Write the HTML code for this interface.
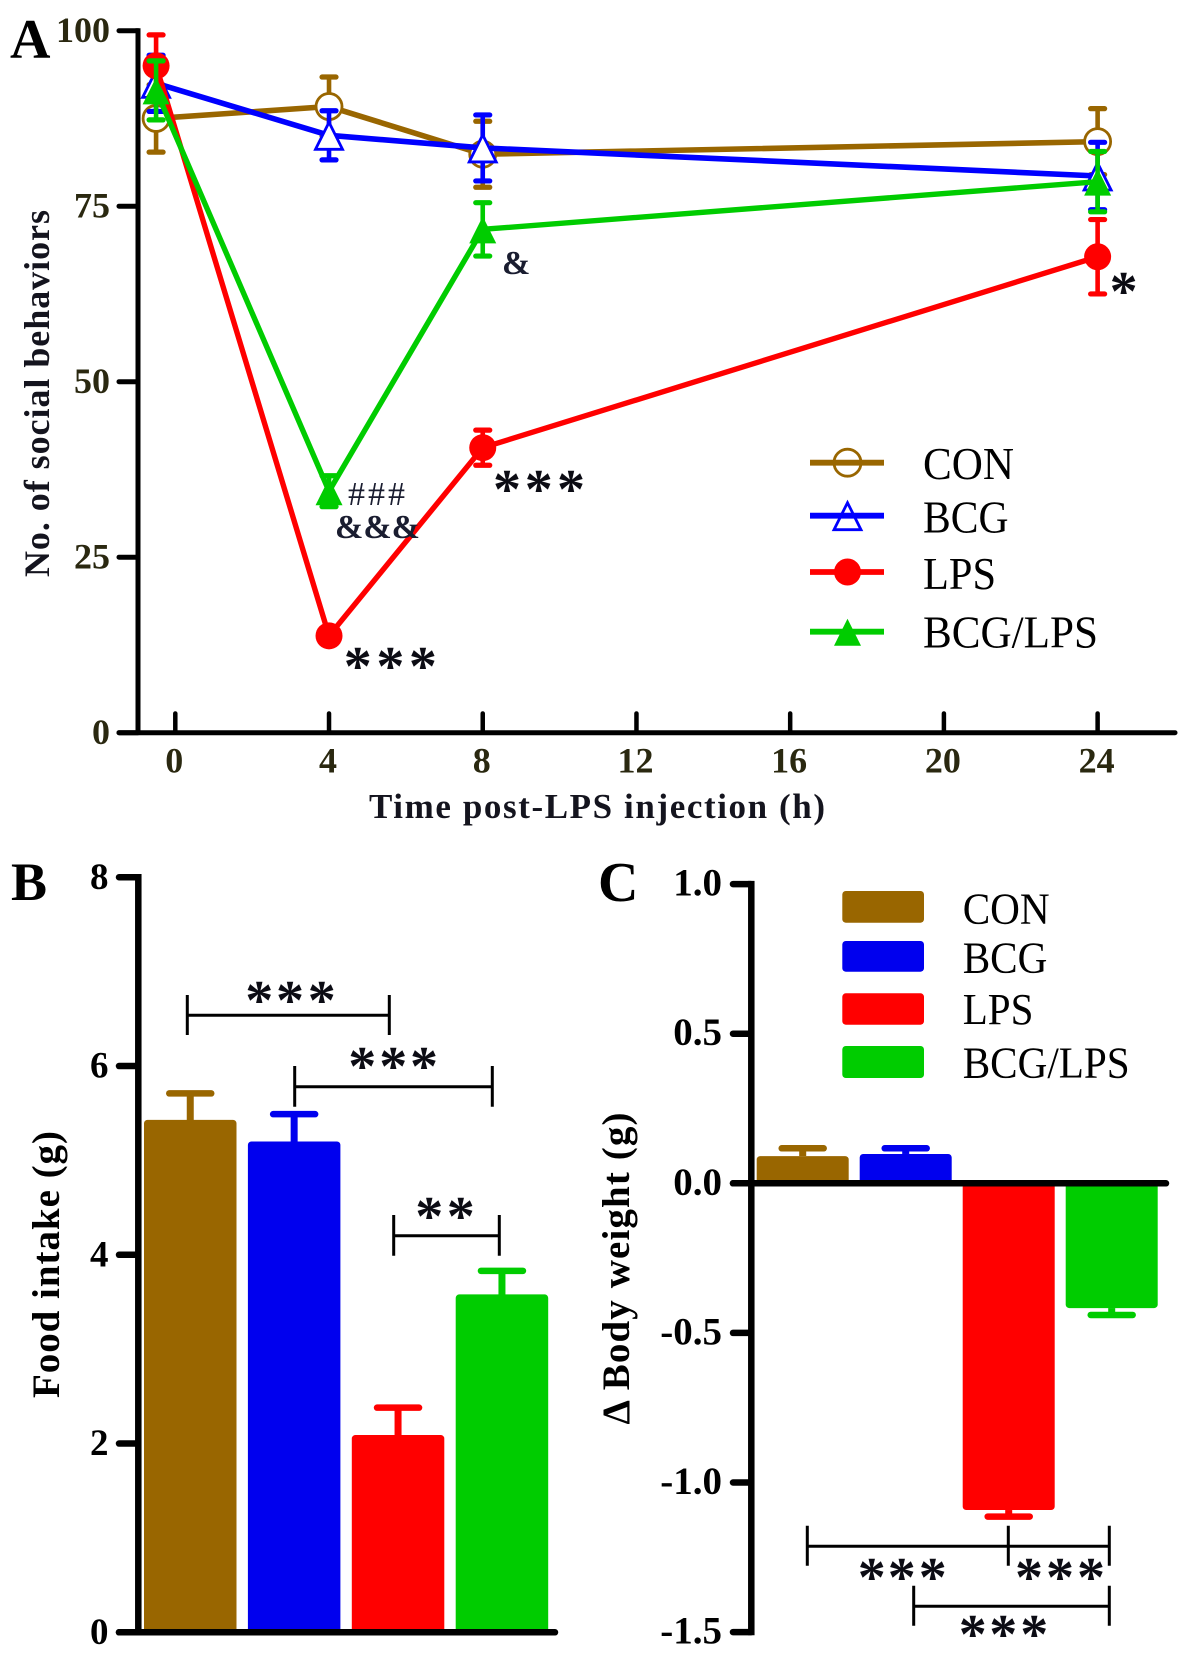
<!DOCTYPE html>
<html lang="en">
<head>
<meta charset="utf-8">
<title>Social behaviors, food intake and body weight</title>
<style>
html,body{margin:0;padding:0;background:#fff;}
svg{display:block;font-family:"Liberation Serif",serif;}
.star{font-size:56px;font-weight:bold;fill:#0c0c14;}
.panel{font-size:56px;font-weight:bold;fill:#000;}
.title{font-weight:bold;}
.legend-text{fill:#000;}
</style>
</head>
<body>
<svg id="figure" xmlns="http://www.w3.org/2000/svg" width="1197" height="1654" viewBox="0 0 1197 1654">
  <rect x="0" y="0" width="1197" height="1654" fill="#fff"/>

  <text class="panel" x="10" y="58">A</text>
  <text class="panel" x="11" y="900" style="font-size:54px">B</text>
  <text class="panel" x="598" y="901">C</text>

  <text class="title" transform="translate(49,577) rotate(-90)" font-size="36" textLength="367" fill="#14141e">No. of social behaviors</text>
  <text class="title" x="369" y="818" font-size="35" textLength="456" fill="#14141e">Time post-LPS injection (h)</text>
  <text class="title" transform="translate(59,1398) rotate(-90)" font-size="39" textLength="267" fill="#000">Food intake (g)</text>
  <text class="title" transform="translate(629,1424.5) rotate(-90)" font-size="39" textLength="312" fill="#000">Δ Body weight (g)</text>

  <g id="panel-a"></g>
  <g id="panel-b"></g>
  <g id="panel-c"></g>

  <g>
    <text x="348" y="505" font-size="34" textLength="57" fill="#1a1d30">###</text>
    <text x="335" y="538" font-size="34" font-weight="bold" textLength="85" fill="#1a1d30">&amp;&amp;&amp;</text>
    <text x="502" y="274" font-size="34" font-weight="bold" fill="#1a1d30">&amp;</text>
    <text class="star" x="343.8 376.4 408.9" y="685">***</text>
    <text class="star" x="493 524.8 557" y="508">***</text>
    <text class="star" x="1109.6" y="310">*</text>
  </g>

  <g id="legend-a">
    <text class="legend-text" x="923" y="479" font-size="46" textLength="91" lengthAdjust="spacingAndGlyphs">CON</text>
    <text class="legend-text" x="923" y="532.7" font-size="46" textLength="85.5" lengthAdjust="spacingAndGlyphs">BCG</text>
    <text class="legend-text" x="923" y="589" font-size="46" textLength="73" lengthAdjust="spacingAndGlyphs">LPS</text>
    <text class="legend-text" x="923" y="647.7" font-size="46" textLength="175" lengthAdjust="spacingAndGlyphs">BCG/LPS</text>
  </g>

  <g stroke="#000" fill="none">
    <path stroke-width="3" d="M187.3 995V1035M389.3 995V1035M187.3 1015.3H389.3"/>
    <path stroke-width="3" d="M294.7 1066V1106.7M492.3 1066V1106.7M294.7 1086.7H492.3"/>
    <path stroke-width="3" d="M393.7 1215V1255.7M499.3 1215V1255.7M393.7 1235.7H499.3"/>
  </g>
  <text class="star" x="245.3 276 307.7" y="1019">***</text>
  <text class="star" x="348.3 379.3 410" y="1085">***</text>
  <text class="star" x="415.3 446.7" y="1235">**</text>

  <g>
    <rect x="842.3" y="891" width="81.7" height="31.7" rx="3.5" fill="#996600"/>
    <rect x="842.3" y="941" width="81.7" height="30.7" rx="3.5" fill="#0000ee"/>
    <rect x="842.3" y="993.3" width="81.7" height="31.4" rx="3.5" fill="#ff0000"/>
    <rect x="842.3" y="1046" width="81.7" height="32" rx="3.5" fill="#00cc00"/>
    <text class="legend-text" x="962.7" y="923.3" font-size="44" textLength="87" lengthAdjust="spacingAndGlyphs">CON</text>
    <text class="legend-text" x="962.7" y="972.3" font-size="44" textLength="84.7" lengthAdjust="spacingAndGlyphs">BCG</text>
    <text class="legend-text" x="962.7" y="1024" font-size="44" textLength="70.7" lengthAdjust="spacingAndGlyphs">LPS</text>
    <text class="legend-text" x="962.7" y="1077.3" font-size="44" textLength="167" lengthAdjust="spacingAndGlyphs">BCG/LPS</text>
  </g>

  <g stroke="#000" fill="none">
    <path stroke-width="3" d="M807.3 1525.7V1565.7M1008.3 1525.7V1565.7M807.3 1546.3H1008.3"/>
    <path stroke-width="3" d="M1109.3 1525.7V1565.7M1008.3 1546.3H1109.3"/>
    <path stroke-width="3" d="M913.7 1585.7V1625.7M1109.3 1585.7V1625.7M913.7 1606.3H1109.3"/>
  </g>
  <text class="star" x="857.7 887.7 918.7" y="1596">***</text>
  <text class="star" x="1015 1046 1077" y="1596">***</text>
  <text class="star" x="958.7 989.3 1020.3" y="1653">***</text>
</svg>

<script>
// ---- Panel A data ----
const timeHours = [-0.5, 4, 8, 24];
const conValues = [87.5, 89.2, 82.4, 84.2];
const conErrors = [4.8, 4.2, 4.7, 4.7];
const bcgValues = [92.5, 85.1, 83.3, 79.3];
const bcgErrors = [4.0, 3.5, 4.7, 4.8];
const lpsValues = [95.0, 13.8, 40.6, 67.8];
const lpsErrors = [4.4, 0.5, 2.5, 5.3];
const comboValues = [91.5, 34.4, 71.7, 78.5];
const comboErrors = [4.2, 2.2, 3.8, 4.3];
const timeTicks = [0, 4, 8, 12, 16, 20, 24];
const behaviorTicks = [0, 25, 50, 75, 100];

// ---- Panel B data ----
const groupNames = ['CON', 'BCG', 'LPS', 'BCG/LPS'];
const foodValues = [5.43, 5.2, 2.09, 3.58];
const foodErrors = [0.28, 0.29, 0.29, 0.25];
const foodTicks = [0, 2, 4, 6, 8];

// ---- Panel C data ----
const weightValues = [0.091, 0.098, -1.092, -0.417];
const weightErrors = [0.026, 0.019, 0.022, 0.023];
const weightTicks = [-1.5, -1.0, -0.5, 0.0, 0.5, 1.0];

const groupColors = ['#996600', '#0000ff', '#ff0000', '#00cc00'];
const barColors = ['#996600', '#0000ee', '#ff0000', '#00cc00'];

const NS = 'http://www.w3.org/2000/svg';
function make(parent, tag, attrs, text) {
  const el = document.createElementNS(NS, tag);
  for (const k in attrs) el.setAttribute(k, attrs[k]);
  if (text !== undefined) el.textContent = text;
  parent.appendChild(el);
  return el;
}
function slug(s) { return String(s).toLowerCase().replace(/[^a-z0-9.-]+/g, '-'); }

// ---- Axis functions ----
const xA = h => 175.3 + 38.43 * h;
const yA = v => 732.7 - 7.02 * v;
const yB = v => 1632.3 - 94.38 * v;
const yC = v => 1183.3 - 299.2 * v;
const barXB = i => 144 + 103.9 * i;
const barXC = i => 756.7 + 103 * i;

function triPoints(x, y) {
  return (x - 13.5) + ',' + (y + 14) + ' ' + x + ',' + (y - 13) + ' ' + (x + 13.5) + ',' + (y + 14);
}

// ---- Panel A ----
const panelA = document.getElementById('panel-a');
const seriesA = [
  { name: 'con', values: conValues, errors: conErrors, color: groupColors[0], width: 5.6, marker: 'ring' },
  { name: 'bcg', values: bcgValues, errors: bcgErrors, color: groupColors[1], width: 5.6, marker: 'tri-open' },
  { name: 'lps', values: lpsValues, errors: lpsErrors, color: groupColors[2], width: 5.4, marker: 'dot' },
  { name: 'bcg-lps', values: comboValues, errors: comboErrors, color: groupColors[3], width: 5.4, marker: 'tri' }
];

function drawMarker(parent, kind, x, y, color) {
  let m;
  if (kind === 'ring') m = make(parent, 'circle', { cx: x, cy: y, r: 13, fill: '#fff', stroke: color, 'stroke-width': 2.8 });
  if (kind === 'dot') m = make(parent, 'circle', { cx: x, cy: y, r: 13.5, fill: color });
  if (kind === 'tri-open') m = make(parent, 'polygon', { points: triPoints(x, y), fill: '#fff', stroke: color, 'stroke-width': 2.8 });
  if (kind === 'tri') m = make(parent, 'polygon', { points: triPoints(x, y), fill: color });
  return m;
}

seriesA.forEach(s => {
  const g = make(panelA, 'g', {});
  
  
  const line = make(g, 'polyline', {
    points: s.values.map((v, i) => xA(timeHours[i]) + ',' + yA(v)).join(' '),
    fill: 'none', stroke: s.color, 'stroke-width': s.width, 'stroke-linejoin': 'round'
  });
  
  
  s.values.forEach((v, i) => {
    const x = xA(timeHours[i]);
    const err = make(g, 'path', {
      d: 'M' + x + ' ' + yA(v + s.errors[i]) + 'V' + yA(v - s.errors[i]),
      stroke: s.color, 'stroke-width': 4.6, fill: 'none'
    });
    
    
    [v + s.errors[i], v - s.errors[i]].forEach(e => {
      const cap = make(g, 'line', {
        x1: x - 7, x2: x + 7, y1: yA(e), y2: yA(e),
        stroke: s.color, 'stroke-width': 5.2, 'stroke-linecap': 'round'
      });
      
      
    });
    const mark = drawMarker(g, s.marker, x, yA(v), s.color);
    
    
  });
});

// Panel A axes
const axisAY = make(panelA, 'line', { x1: 138, x2: 138, y1: 28.2, y2: 735, stroke: '#000', 'stroke-width': 5 });


const axisAX = make(panelA, 'line', { x1: 119, x2: 1175, y1: yA(0), y2: yA(0), stroke: '#000', 'stroke-width': 5, 'stroke-linecap': 'round' });


behaviorTicks.forEach(t => {
  const tick = make(panelA, 'line', { x1: 119, x2: 138, y1: yA(t), y2: yA(t), stroke: '#000', 'stroke-width': 5, 'stroke-linecap': 'round' });
  
  
  const lab = make(panelA, 'text', { x: 110, y: yA(t) + 11.3, 'text-anchor': 'end', 'font-size': 36, 'font-weight': 'bold', fill: '#2a2810' }, String(t));
  
  
});
timeTicks.forEach(t => {
  const tick = make(panelA, 'line', { x1: xA(t), x2: xA(t), y1: 713.5, y2: yA(0), stroke: '#000', 'stroke-width': 4.5, 'stroke-linecap': 'round' });
  
  
  const lab = make(panelA, 'text', { x: xA(t) - 1, y: 772.5, 'text-anchor': 'middle', 'font-size': 36, 'font-weight': 'bold', fill: '#2a2810' }, String(t));
  
  
});

// Panel A legend symbols
const legendA = document.getElementById('legend-a');
const legendRowsA = [462.7, 515.7, 572, 631.7];
seriesA.forEach((s, i) => {
  const y = legendRowsA[i];
  const l = make(legendA, 'line', { x1: 810, x2: 884, y1: y, y2: y, stroke: s.color, 'stroke-width': 5.8, 'stroke-linecap': 'butt' });
  
  
  let m;
  if (s.marker === 'ring') m = make(legendA, 'circle', { cx: 847.5, cy: y, r: 13.5, fill: 'none', stroke: s.color, 'stroke-width': 2.8 });
  if (s.marker === 'dot') m = make(legendA, 'circle', { cx: 847.5, cy: y, r: 13.5, fill: s.color });
  if (s.marker === 'tri-open') m = make(legendA, 'polygon', { points: triPoints(847.5, y), fill: 'none', stroke: s.color, 'stroke-width': 2.8 });
  if (s.marker === 'tri') m = make(legendA, 'polygon', { points: triPoints(847.5, y), fill: s.color });
  
  
});

// ---- Panel B ----
const panelB = document.getElementById('panel-b');
foodValues.forEach((v, i) => {
  const x = barXB(i), w = 92.5, mid = x + w / 2;
  const top = yB(v + foodErrors[i]);
  const stem = make(panelB, 'line', { x1: mid, x2: mid, y1: top, y2: yB(v) + 2, stroke: barColors[i], 'stroke-width': 7 });
  
  
  const cap = make(panelB, 'line', { x1: mid - 21, x2: mid + 21, y1: top, y2: top, stroke: barColors[i], 'stroke-width': 6.5, 'stroke-linecap': 'round' });
  
  
  const bar = make(panelB, 'rect', { x: x, y: yB(v), width: w, height: yB(0) - yB(v), rx: 3.5, fill: barColors[i] });
  
  
});
const axisBY = make(panelB, 'line', { x1: 138.3, x2: 138.3, y1: yB(8) - 3.2, y2: yB(0) + 3, stroke: '#000', 'stroke-width': 6.5 });


const axisBX = make(panelB, 'line', { x1: 119, x2: 555, y1: yB(0), y2: yB(0), stroke: '#000', 'stroke-width': 6.5, 'stroke-linecap': 'round' });


foodTicks.forEach(t => {
  const tick = make(panelB, 'line', { x1: 119, x2: 138, y1: yB(t), y2: yB(t), stroke: '#000', 'stroke-width': 6.5, 'stroke-linecap': 'round' });
  
  
  const lab = make(panelB, 'text', { x: 108.5, y: yB(t) + 11.5, 'text-anchor': 'end', 'font-size': 37, 'font-weight': 'bold', fill: '#000' }, String(t));
  
  
});

// ---- Panel C ----
const panelC = document.getElementById('panel-c');
weightValues.forEach((v, i) => {
  const x = barXC(i), w = 92, mid = x + w / 2;
  const sign = v >= 0 ? 1 : -1;
  const end = yC(v + sign * weightErrors[i]);
  const stem = make(panelC, 'line', { x1: mid, x2: mid, y1: end, y2: yC(v), stroke: barColors[i], 'stroke-width': 7 });
  
  
  const cap = make(panelC, 'line', { x1: mid - 21, x2: mid + 21, y1: end, y2: end, stroke: barColors[i], 'stroke-width': 6.5, 'stroke-linecap': 'round' });
  
  
  const top = Math.min(yC(v), yC(0));
  const bar = make(panelC, 'rect', { x: x, y: top, width: w, height: Math.abs(yC(v) - yC(0)), rx: 3.5, fill: barColors[i] });
  
  
});
const axisCY = make(panelC, 'line', { x1: 751.3, x2: 751.3, y1: yC(1) - 3.2, y2: yC(-1.5) + 3.2, stroke: '#000', 'stroke-width': 6.5 });


const axisCX = make(panelC, 'line', { x1: 733, x2: 1166, y1: yC(0), y2: yC(0), stroke: '#000', 'stroke-width': 6.5, 'stroke-linecap': 'round' });


weightTicks.forEach(t => {
  const tick = make(panelC, 'line', { x1: 733, x2: 751, y1: yC(t), y2: yC(t), stroke: '#000', 'stroke-width': 6.5, 'stroke-linecap': 'round' });
  
  
  const lab = make(panelC, 'text', { x: 722, y: yC(t) + 11.5, 'text-anchor': 'end', 'font-size': 39, 'font-weight': 'bold', fill: '#000' }, t.toFixed(1));
  
  
});
</script>
</body>
</html>
